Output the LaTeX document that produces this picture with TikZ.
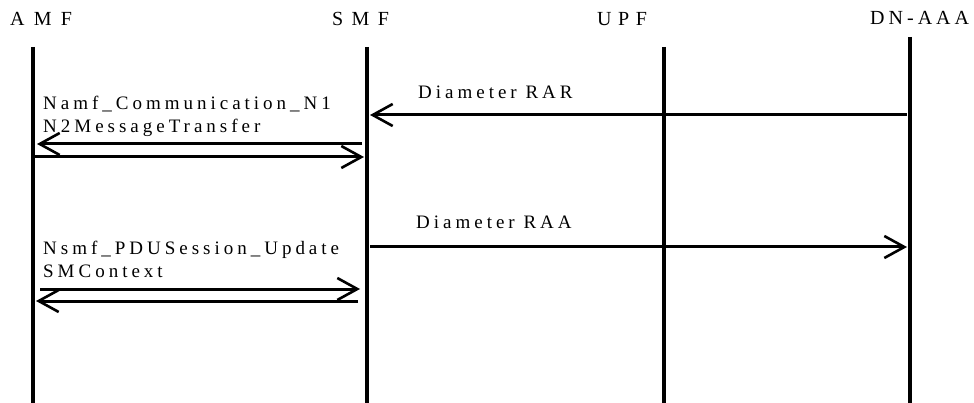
\documentclass[tikz,border=0pt]{standalone}
\usepackage{fontspec}
\setmainfont{Liberation Serif}
\newfontfamily\lblfont[LetterSpace=21]{Liberation Serif}
\usetikzlibrary{arrows.meta}
\begin{document}
\begin{tikzpicture}[x=1pt,y=-1pt,
  lifeline/.style={line width=4pt},
  msg/.style={line width=3pt,-{Straight Barb[length=20pt,width=22pt,line width=2.6pt]}},
  hdr/.style={font=\fontsize{20}{22}\selectfont\addfontfeature{LetterSpace=#1},inner sep=0pt,anchor=base west},
  lbl/.style={font=\lblfont\fontsize{19}{23}\selectfont,inner sep=0pt,anchor=base west,align=left}]
\useasboundingbox (0,0) rectangle (974,403);
% headers
\node[hdr=46] (hamf) at (10,26) {AMF};
\node[hdr=42] (hsmf) at (332,26) {SMF};
\node[hdr=33] (hupf) at (597,26) {UPF};
\node[hdr=20] (hdn) at (870,25) {DN-AAA};
% lifelines
\coordinate (amfT) at (33,47); \coordinate (amfB) at (33,403);
\coordinate (smfT) at (367,47); \coordinate (smfB) at (367,403);
\coordinate (upfT) at (664,47); \coordinate (upfB) at (664,403);
\coordinate (dnT) at (910,37); \coordinate (dnB) at (910,403);
\draw[lifeline] (amfT) -- (amfB);
\draw[lifeline] (smfT) -- (smfB);
\draw[lifeline] (upfT) -- (upfB);
\draw[lifeline] (dnT) -- (dnB);
% message end points
\coordinate (rarS) at (907,115); \coordinate (rarE) at (370,115);
\coordinate (n1S) at (362,144); \coordinate (n1E) at (37,144);
\coordinate (n2S) at (35,157); \coordinate (n2E) at (364,157);
\coordinate (raaS) at (370,247); \coordinate (raaE) at (907,247);
\coordinate (u1S) at (40,289); \coordinate (u1E) at (360,289);
\coordinate (u2S) at (358,301); \coordinate (u2E) at (36,301);
% messages
\draw[msg] (rarS) -- (rarE);
\draw[msg] (n1S) -- (n1E);
\draw[msg] (n2S) -- (n2E);
\draw[msg] (raaS) -- (raaE);
\draw[msg] (u1S) -- (u1E);
\draw[msg] (u2S) -- (u2E);
% labels
\node[lbl] (lrar) at (418,99) {Diameter RAR};
\node[lbl] (ln) at (43,133) {Namf\_Communication\_N1\\N2MessageTransfer};
\node[lbl] (lraa) at (416,229) {Diameter RAA};
\node[lbl] (lu) at (43,277) {Nsmf\_PDUSession\_Update\\SMContext};
\end{tikzpicture}
\end{document}
